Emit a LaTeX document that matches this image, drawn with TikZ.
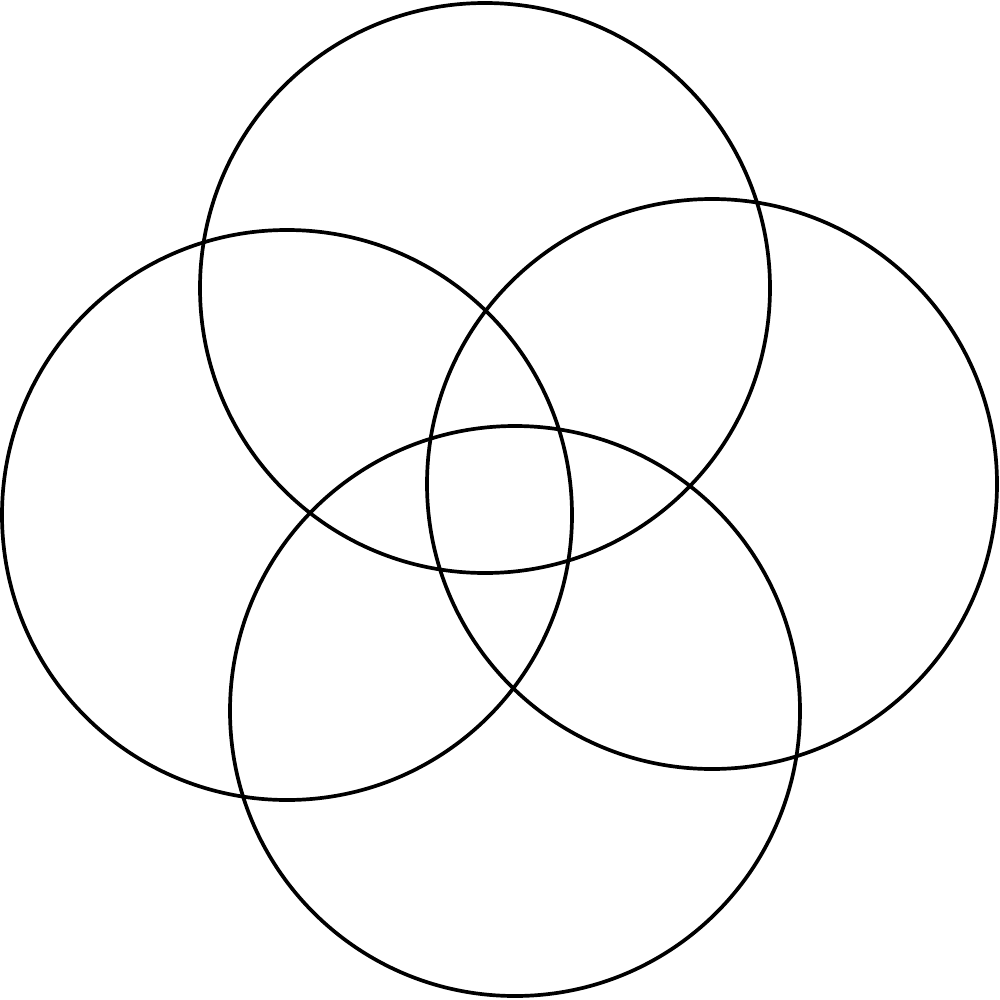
\documentclass[tikz,border=0pt]{standalone}
\begin{document}
\begin{tikzpicture}[x=0.01cm,y=-0.01cm,ring/.style={draw=black,line width=1.05pt}]
\useasboundingbox (0,0) rectangle (1000,1000);
\draw[ring] (485,288) circle[radius=285];
\draw[ring] (287,515) circle[radius=285];
\draw[ring] (712,484) circle[radius=285];
\draw[ring] (515,711) circle[radius=285];
\end{tikzpicture}
\end{document}
